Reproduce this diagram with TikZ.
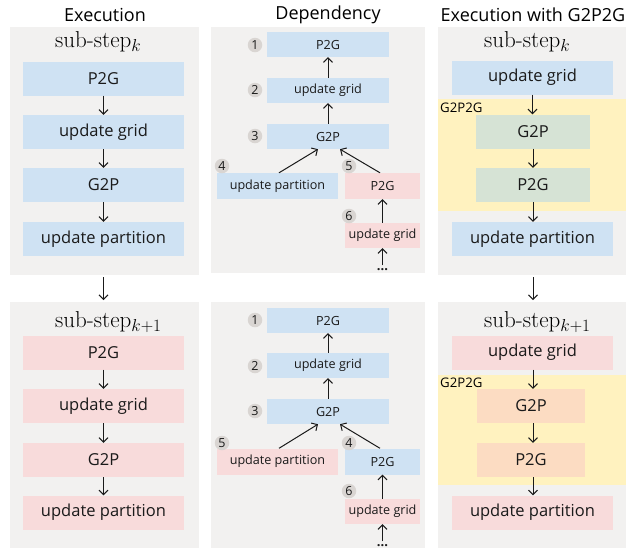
\documentclass[tikz,border=0pt]{standalone}
\usepackage{fontspec}
\setmainfont{Open Sans}
\newfontfamily\lmroman{Latin Modern Roman}
\usetikzlibrary{arrows.meta}

\definecolor{panelgrey}{HTML}{F2F1F0}
\definecolor{boxblue}{HTML}{CFE2F3}
\definecolor{boxred}{HTML}{F8DBDB}
\definecolor{fuseyellow}{HTML}{FFF2BF}
\definecolor{boxgreen}{HTML}{D6E3D5}
\definecolor{boxorange}{HTML}{FCDCC2}
\definecolor{numgrey}{HTML}{D9D5D2}
\definecolor{inkc}{HTML}{1A1A1A}

\tikzset{
  panel/.style={fill=panelgrey, inner sep=0pt, anchor=north west},
  fuse/.style={fill=fuseyellow, inner sep=0pt, anchor=north west},
  bigbox/.style={inner sep=0pt, minimum width=161pt, minimum height=34pt,
    font=\fontsize{16.5}{18}\selectfont, text=inkc},
  depbox/.style={inner sep=0pt, minimum height=25pt,
    font=\fontsize{12.6}{14}\selectfont, text=inkc},
  innerbox/.style={inner sep=0pt, minimum height=34pt,
    font=\fontsize{16.5}{18}\selectfont, text=inkc},
  title/.style={font=\fontsize{18}{20}\selectfont, text=black},
  substep/.style={anchor=west, font=\fontsize{23}{25}\selectfont, inner sep=0pt},
  num/.style={circle, fill=numgrey, inner sep=0pt, minimum size=14.5pt,
    font=\fontsize{12.5}{13}\selectfont, text=inkc},
  fuselabel/.style={anchor=west, inner sep=0pt, font=\fontsize{13.2}{14}\selectfont, text=black},
  more/.style={inner sep=0pt, anchor=base, text height=2.5pt, text depth=0pt,
    font=\bfseries\fontsize{13}{13}\selectfont, text=inkc},
  arr/.style={-{Straight Barb[length=4.5pt,width=9pt]}, line width=1pt, inkc},
}

\begin{document}
\begin{tikzpicture}[x=1pt, y=-1pt]
\useasboundingbox (0,0) rectangle (629,550);

% ---------- column titles ----------
\node[title] (t1) at (105,15) {Execution};
\node[title] (t2) at (328,15) {Dependency};
\node[title] (t3) at (533,15) {Execution with G2P2G};

% ---------- grey panels ----------
\node[panel, minimum width=189pt, minimum height=248pt] (pa1) at (10,27) {};
\node[panel, minimum width=189pt, minimum height=246pt] (pb1) at (10,302) {};
\node[panel, minimum width=214pt, minimum height=246pt] (pa2) at (211,27) {};
\node[panel, minimum width=214pt, minimum height=246pt] (pb2) at (211,302) {};
\node[panel, minimum width=188pt, minimum height=248pt] (pa3) at (438,27) {};
\node[panel, minimum width=188pt, minimum height=246pt] (pb3) at (438,302) {};

% ---------- fused G2P2G regions ----------
\node[fuse, minimum width=188pt, minimum height=112pt] (fa) at (438,99) {};
\node[fuse, minimum width=188pt, minimum height=110pt] (fb) at (438,375) {};
\node[fuselabel] (fla) at (440,108) {G2P2G};
\node[fuselabel] (flb) at (440,383) {G2P2G};

% ---------- sub-step headings ----------
\node[substep] (sa1) at (55,42) {{\lmroman sub-step}$_{k}$};
\node[substep] (sb1) at (55,322) {{\lmroman sub-step}$_{k+1}$};
\node[substep] (sa3) at (484,42) {{\lmroman sub-step}$_{k}$};
\node[substep] (sb3) at (484,322) {{\lmroman sub-step}$_{k+1}$};

% ---------- Execution: sub-step k ----------
\node[bigbox, fill=boxblue] (a1) at (103.5,78.5) {P2G};
\node[bigbox, fill=boxblue] (a2) at (103.5,132) {update grid};
\node[bigbox, fill=boxblue] (a3) at (103.5,185) {G2P};
\node[bigbox, fill=boxblue] (a4) at (103.5,239) {update partition};
\draw[arr] (a1) -- (a2);
\draw[arr] (a2) -- (a3);
\draw[arr] (a3) -- (a4);

% ---------- Execution: sub-step k+1 ----------
\node[bigbox, fill=boxred] (b1) at (103.5,352.5) {P2G};
\node[bigbox, fill=boxred] (b2) at (103.5,406) {update grid};
\node[bigbox, fill=boxred] (b3) at (103.5,460) {G2P};
\node[bigbox, fill=boxred] (b4) at (103.5,512.5) {update partition};
\draw[arr] (b1) -- (b2);
\draw[arr] (b2) -- (b3);
\draw[arr] (b3) -- (b4);
\draw[arr, shorten <=2pt, shorten >=2pt] (a4 |- pa1.south) -- (a4 |- pb1.north);

% ---------- Dependency: sub-step k ----------
\node[depbox, fill=boxblue, minimum width=122pt] (da1) at (328,44.5) {P2G};
\node[depbox, fill=boxblue, minimum width=122pt] (da2) at (328,90.5) {update grid};
\node[depbox, fill=boxblue, minimum width=122pt] (da3) at (328,136.5) {G2P};
\node[depbox, fill=boxblue, minimum width=121pt, minimum height=26pt] (da4) at (277.5,186) {update partition};
\node[depbox, fill=boxred, minimum width=75pt, minimum height=26pt] (da5) at (382.5,186) {P2G};
\node[depbox, fill=boxred, minimum width=75pt] (da6) at (382.5,235.5) {update grid};
\node[more] (dad) at (382.5,270) {...};
\node[num] (na1) at (255,45) {1};
\node[num] (na2) at (255,90) {2};
\node[num] (na3) at (255,136) {3};
\node[num] (na4) at (222,166) {4};
\node[num] (na5) at (349,166) {5};
\node[num] (na6) at (349,216) {6};
\draw[arr] (da2) -- (da1);
\draw[arr] (da3) -- (da2);
\draw[arr] ([xshift=1.5pt]da4.north) -- ([xshift=-10pt]da3.south);
\draw[arr] ([xshift=-2.5pt]da5.north) -- ([xshift=12pt]da3.south);
\draw[arr] (da6) -- (da5);
\draw[arr] ([yshift=2pt]dad.north) -- (da6.south);

% ---------- Dependency: sub-step k+1 ----------
\node[depbox, fill=boxblue, minimum width=122pt] (db1) at (328,320.5) {P2G};
\node[depbox, fill=boxblue, minimum width=122pt] (db2) at (328,365.5) {update grid};
\node[depbox, fill=boxblue, minimum width=122pt] (db3) at (328,411.5) {G2P};
\node[depbox, fill=boxred, minimum width=121pt, minimum height=26pt] (db4) at (277.5,461.5) {update partition};
\node[depbox, fill=boxblue, minimum width=75pt, minimum height=26pt] (db5) at (382.5,461.5) {P2G};
\node[depbox, fill=boxred, minimum width=75pt] (db6) at (382.5,511.5) {update grid};
\node[more] (dbd) at (382.5,546) {...};
\node[num] (nb1) at (255,320) {1};
\node[num] (nb2) at (255,366) {2};
\node[num] (nb3) at (255,411) {3};
\node[num] (nb5) at (222,443) {5};
\node[num] (nb4) at (349,443) {4};
\node[num] (nb6) at (349,491) {6};
\draw[arr] (db2) -- (db1);
\draw[arr] (db3) -- (db2);
\draw[arr] ([xshift=1.5pt]db4.north) -- ([xshift=-10pt]db3.south);
\draw[arr] ([xshift=-2.5pt]db5.north) -- ([xshift=12pt]db3.south);
\draw[arr] (db6) -- (db5);
\draw[arr] ([yshift=2pt]dbd.north) -- (db6.south);

% ---------- Execution with G2P2G: sub-step k ----------
\node[bigbox, fill=boxblue] (c1) at (532.5,77.5) {update grid};
\node[innerbox, fill=boxgreen, minimum width=114pt] (c2) at (533,131.5) {G2P};
\node[innerbox, fill=boxgreen, minimum width=114pt] (c3) at (533,185) {P2G};
\node[bigbox, fill=boxblue] (c4) at (532.5,239) {update partition};
\draw[arr] (c1) -- (c1 |- c2.north);
\draw[arr] (c2) -- (c2 |- c3.north);
\draw[arr] (c3) -- (c3 |- c4.north);

% ---------- Execution with G2P2G: sub-step k+1 ----------
\node[bigbox, fill=boxred] (e1) at (532.5,352.5) {update grid};
\node[innerbox, fill=boxorange, minimum width=108pt] (e2) at (531,406) {G2P};
\node[innerbox, fill=boxorange, minimum width=108pt] (e3) at (531,460) {P2G};
\node[bigbox, fill=boxred] (e4) at (532.5,512.5) {update partition};
\draw[arr] (e1.south -| c2) -- (c2 |- e2.north);
\draw[arr] (e2.south -| c2) -- (c2 |- e3.north);
\draw[arr] (e3.south -| c2) -- (c2 |- e4.north);
\draw[arr, shorten <=2pt, shorten >=2pt] (c2 |- pa3.south) -- (c2 |- pb3.north);
\end{tikzpicture}
\end{document}
